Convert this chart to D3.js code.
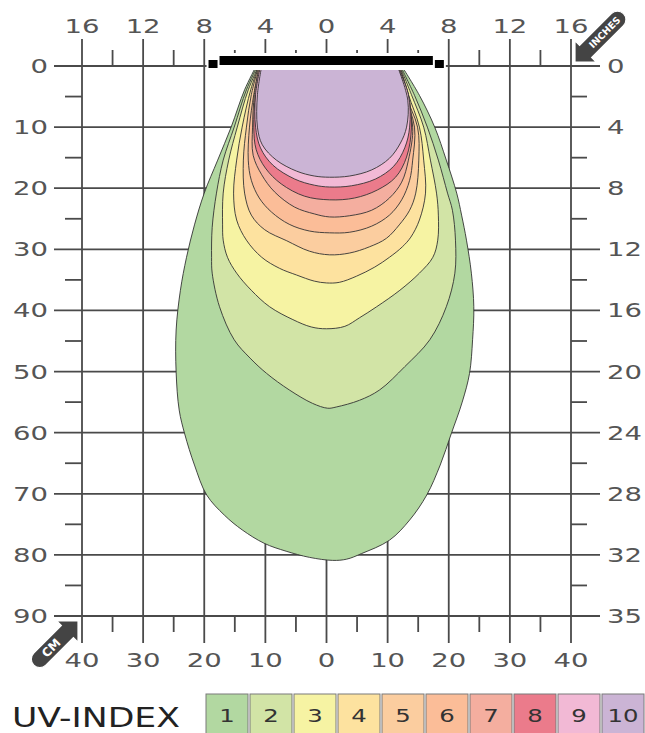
<!DOCTYPE html>
<html>
<head>
<meta charset="utf-8">
<script src="https://cdn.jsdelivr.net/npm/d3@7"></script>
<style>
  html,body{margin:0;padding:0;background:#fff;}
  svg{display:block;}
  text{font-family:"DejaVu Sans",sans-serif;}
</style>
</head>
<body>
<svg id="chart" width="645" height="733"></svg>
<script>
// ---------- data (cm) ----------
const xTicksCm = [-40,-30,-20,-10,0,10,20,30,40];
const bottomLabels = ["40","30","20","10","0","10","20","30","40"];
const topInchLabels = ["16","12","8","4","0","4","8","12","16"];
const yTicksCm = [0,10,20,30,40,50,60,70,80,90];
const rightInchLabels = ["0","4","8","12","16","20","24","28","32","35"];
const minorX = [-35,-25,-15,-5,5,15,25,35];
const minorY = [5,15,25,35,45,55,65,75,85];

const uvLevels = [1,2,3,4,5,6,7,8,9,10];
const uvColors = ["#b2d8a1","#d2e4a6","#f6f3a3","#fde29f","#fbcd9f","#fbbd98","#f4ae9f","#eb7b8b","#f2b9d5","#cbb4d5"];

const uv1 = [[-11.5,0],[-13.4,3.9],[-15.6,10.0],[-17.8,15.4],[-20.0,20.8],[-21.6,26.0],[-22.9,31.3],[-23.9,36.7],[-24.6,43.2],[-24.6,50.1],[-24.1,56.3],[-23.2,60.2],[-21.6,65.3],[-19.6,70.2],[-16.7,73.5],[-13.8,75.9],[-10.2,78.1],[-6.6,79.4],[-2.8,80.4],[1.0,80.9],[3.3,80.7],[5.7,79.8],[10.3,77.6],[13.6,74.3],[16.4,70.2],[18.6,65.3],[20.4,60.2],[22.2,55.0],[23.4,50.3],[23.9,44.8],[24.1,39.4],[23.7,33.9],[22.9,28.5],[22.1,24.4],[21.3,20.8],[19.6,15.4],[17.7,10.0],[15.2,4.8],[12.3,0]];
const uv2 = [[-11.3,0],[-13.1,3.9],[-15.1,10.0],[-16.9,15.4],[-18.0,20.8],[-18.7,26.4],[-18.8,31.3],[-18.7,33.9],[-17.5,39.4],[-15.1,44.8],[-12.5,47.8],[-9.8,50.3],[-6.1,53.0],[-2.3,55.2],[0.2,56.0],[1.6,55.8],[5.4,54.7],[8.7,53.0],[12.8,49.2],[16.9,44.8],[19.6,39.4],[21.0,33.9],[21.1,28.5],[20.6,23.6],[19.8,20.8],[18.3,15.4],[16.5,10.0],[14.4,4.8],[12.1,0]];
const uv3 = [[-11.1,0],[-12.8,3.9],[-14.6,10.0],[-16.0,15.4],[-16.9,20.8],[-17.0,26.0],[-16.9,28.5],[-16.2,31.3],[-14.7,33.9],[-12.3,36.7],[-9.3,39.4],[-5.5,41.5],[-2.5,42.7],[0,43.0],[3.0,42.6],[5.4,41.2],[8.2,39.4],[12.0,36.7],[15.2,33.9],[17.4,31.3],[18.2,28.5],[18.3,24.4],[18.0,20.8],[17.0,15.4],[15.9,10.0],[13.9,4.7],[12.0,0]];
const uv4 = [[-11.1,0],[-12.4,3.9],[-13.8,10.0],[-14.7,15.4],[-15.2,20.8],[-14.7,25.2],[-13.1,28.5],[-10.6,31.3],[-7.7,33.1],[-4.9,34.2],[-2.0,35.2],[0,35.5],[2.1,35.4],[4.9,34.4],[7.9,32.9],[10.3,31.3],[12.4,29.6],[13.8,28.0],[15.2,25.2],[16.2,20.8],[15.9,15.4],[15.2,10.0],[13.4,4.7],[12.0,0]];
const uv5 = [[-11.1,0],[-12.3,4.7],[-13.1,10.0],[-13.6,15.4],[-13.4,20.8],[-12.3,24.4],[-10.1,26.8],[-6.5,28.6],[-2.8,30.3],[0.5,30.9],[3.8,30.6],[7.0,29.6],[9.8,28.2],[11.9,26.0],[13.6,23.6],[14.6,20.8],[15.1,15.4],[14.9,10.0],[12.9,4.7],[11.8,0]];
const uv6 = [[-11.0,0],[-11.9,4.7],[-12.6,10.0],[-12.8,15.4],[-12.3,18.7],[-11.0,21.6],[-9.0,23.9],[-6.1,25.9],[-2.8,27.0],[0.5,27.3],[3.8,27.2],[7.4,26.2],[10.3,24.4],[12.3,21.9],[13.6,18.7],[14.1,15.4],[14.4,10.0],[12.8,4.7],[11.8,0]];
const uv7 = [[-11.0,0],[-11.8,4.7],[-12.1,10.0],[-12.0,14.6],[-10.6,17.8],[-8.5,20.6],[-5.2,23.1],[-2.0,24.2],[0.5,24.7],[3.8,24.5],[7.4,23.6],[10.3,21.6],[12.3,19.0],[13.4,15.4],[14.1,10.0],[12.8,4.7],[11.8,0]];
const uv8 = [[-10.8,0],[-11.6,4.7],[-11.9,10.0],[-11.5,13.7],[-10.0,16.7],[-7.4,19.3],[-3.6,21.3],[0.5,21.9],[4.6,21.6],[8.3,20.3],[11.3,18.2],[13.1,14.9],[13.9,10.0],[13.4,4.7],[11.8,0]];
const uv9 = [[-10.8,0],[-11.6,4.7],[-11.6,10.0],[-10.8,13.4],[-8.8,16.2],[-5.2,18.5],[-2.0,19.5],[0.5,19.8],[4.1,19.6],[8.0,18.5],[11.0,16.4],[12.8,13.4],[13.6,10.0],[13.4,4.7],[11.6,0]];
const uv10 = [[-10.6,0],[-11.3,4.7],[-11.3,10.0],[-10.5,12.9],[-8.2,15.4],[-4.9,17.2],[-2.0,18.0],[0.5,18.2],[3.8,18.0],[7.4,17.0],[10.3,15.1],[12.1,12.6],[13.1,10.0],[13.3,5.6],[11.6,0]];
const contours = [uv1,uv2,uv3,uv4,uv5,uv6,uv7,uv8,uv9,uv10];

// light fixture extent (cm)
const lampBar = [-17.5, 17.4];

// ---------- drawing ----------
const svg = d3.select("#chart");
const x = d3.scaleLinear().domain([-40,40]).range([82,571]);
const y = d3.scaleLinear().domain([0,90]).range([66,616]);
const gridColor = "#4a4a4a";
const labelColor = "#555";

const grid = svg.append("g").attr("stroke", gridColor).attr("stroke-width", 1.8);
grid.selectAll(".v").data(xTicksCm).join("line")
  .attr("x1", d => x(d)).attr("x2", d => x(d))
  .attr("y1", 39).attr("y2", 643);
grid.selectAll(".h").data(yTicksCm).join("line")
  .attr("y1", d => y(d)).attr("y2", d => y(d))
  .attr("x1", 54).attr("x2", 600);
grid.selectAll(".mt").data(minorX).join("line")
  .attr("x1", d => x(d)).attr("x2", d => x(d)).attr("y1", 50).attr("y2", y(0));
grid.selectAll(".mb").data(minorX).join("line")
  .attr("x1", d => x(d)).attr("x2", d => x(d)).attr("y1", y(90)).attr("y2", 632);
grid.selectAll(".ml").data(minorY).join("line")
  .attr("y1", d => y(d)).attr("y2", d => y(d)).attr("x1", 65).attr("x2", x(-40));
grid.selectAll(".mr").data(minorY).join("line")
  .attr("y1", d => y(d)).attr("y2", d => y(d)).attr("x1", x(40)).attr("x2", 587);

function stretched(sel, str, size, perChar) {
  sel.text(str).attr("font-size", size)
     .attr("textLength", str.length * perChar)
     .attr("lengthAdjust", "spacingAndGlyphs");
}
const labels = svg.append("g").attr("fill", labelColor);
xTicksCm.forEach((d,i) => {
  labels.append("text").attr("x", x(d)).attr("y", 33).attr("text-anchor","middle")
    .call(stretched, topInchLabels[i], 19, 17.5);
  labels.append("text").attr("x", x(d)).attr("y", 667).attr("text-anchor","middle")
    .call(stretched, bottomLabels[i], 19, 17.5);
});
yTicksCm.forEach((d,i) => {
  labels.append("text").attr("x", 48).attr("y", y(d) + 7).attr("text-anchor","end")
    .call(stretched, String(d), 19, 17.5);
  labels.append("text").attr("x", 607).attr("y", y(d) + 7).attr("text-anchor","start")
    .call(stretched, rightInchLabels[i], 19, 17.5);
});

// contours
const line = d3.line().x(d => x(d[0])).y(d => y(d[1])).curve(d3.curveCatmullRom.alpha(0.5));
svg.append("g").selectAll("path").data(contours).join("path")
  .attr("d", d => line(d) + "Z")
  .attr("fill", (d,i) => uvColors[i])
  .attr("stroke", "#333").attr("stroke-width", 0.9).attr("stroke-linejoin","round");

// lamp bar
const lamp = svg.append("g");
lamp.append("rect").attr("x", x(lampBar[0]) - 13).attr("y", 53)
  .attr("width", x(lampBar[1]) - x(lampBar[0]) + 26).attr("height", 17).attr("fill", "#fff");
lamp.append("rect").attr("x", x(lampBar[0])).attr("y", 56)
  .attr("width", x(lampBar[1]) - x(lampBar[0])).attr("height", 9).attr("fill", "#000");
lamp.append("rect").attr("x", x(lampBar[0]) - 11).attr("y", 60).attr("width", 9).attr("height", 8).attr("fill", "#000");
lamp.append("rect").attr("x", x(lampBar[1]) + 2).attr("y", 60).attr("width", 9).attr("height", 8).attr("fill", "#000");

// unit badges (arrow shapes)
function badge(tx, ty, angle, len, txt, textAt) {
  const g = svg.append("g").attr("transform", `translate(${tx},${ty}) rotate(${angle})`);
  const p = d3.path();
  p.moveTo(0,0); p.lineTo(15,-15); p.lineTo(15,-8.5); p.lineTo(len-8,-8.5);
  p.arc(len-8,0,8.5,-Math.PI/2,Math.PI/2); p.lineTo(15,8.5); p.lineTo(15,15); p.closePath();
  g.append("path").attr("d", p.toString()).attr("fill", "#444").attr("stroke","#fff").attr("stroke-width",1.2);
  const rad = angle*Math.PI/180;
  const cx = tx + Math.cos(rad)*textAt, cy = ty + Math.sin(rad)*textAt;
  svg.append("text").attr("transform", `translate(${cx},${cy}) rotate(-45)`)
    .attr("text-anchor","middle").attr("dy","0.36em")
    .attr("fill","#fff").attr("font-weight","bold").attr("font-size", txt.length > 2 ? 9.5 : 12)
    .text(txt);
}
badge(575, 62, -45, 68, "INCHES", 42);
badge(78, 621, 135, 62, "CM", 38);

// legend
svg.append("text").attr("x", 12).attr("y", 727).attr("fill","#222")
  .call(stretched, "UV-INDEX", 26, 21);
const leg = svg.append("g").selectAll("g").data(uvLevels).join("g")
  .attr("transform", (d,i) => `translate(${206 + i*44},694)`);
leg.append("rect").attr("width", 42).attr("height", 45)
  .attr("fill", (d,i) => uvColors[i]).attr("stroke","#7a7a7a").attr("stroke-width",1);
leg.append("text").attr("x", 21).attr("y", 28).attr("text-anchor","middle").attr("fill","#333")
  .each(function(d){ d3.select(this).call(stretched, String(d), 18, 15.5); });
</script>
</body>
</html>
